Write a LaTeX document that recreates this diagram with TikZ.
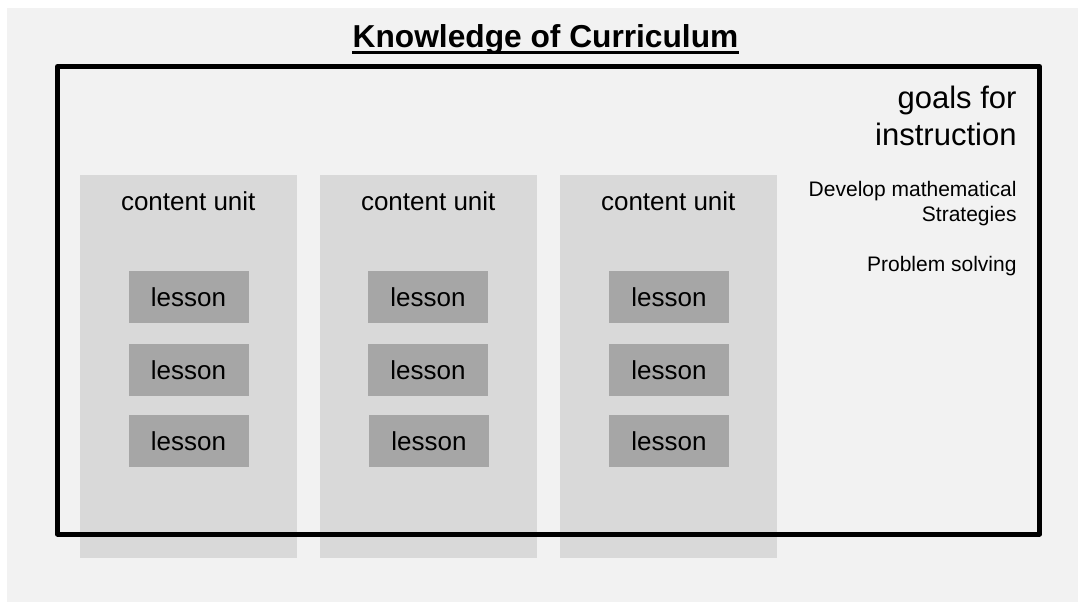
\documentclass[tikz,border=0pt]{standalone}
\usepackage{fontspec}
\setmainfont{Liberation Sans}
\definecolor{bgcol}{HTML}{F2F2F2}
\definecolor{unitcol}{HTML}{D9D9D9}
\definecolor{lescol}{HTML}{A6A6A6}
\begin{document}
\begin{tikzpicture}[x=1pt,y=-1pt,
  unitbox/.style={fill=unitcol, draw=none, minimum width=216.5pt, minimum height=383pt, inner sep=0pt, outer sep=0pt, anchor=north west},
  lessonbox/.style={fill=lescol, draw=none, minimum width=120pt, minimum height=51.7pt, inner sep=0pt, outer sep=0pt, anchor=north west, font=\fontsize{26}{31}\selectfont},
  unitlabel/.style={inner sep=0pt, anchor=base, font=\fontsize{26}{31}\selectfont},
  goallabel/.style={inner sep=0pt, anchor=base east, font=\fontsize{31}{37}\selectfont},
  smalllabel/.style={inner sep=0pt, anchor=base east, font=\fontsize{21}{25}\selectfont},
  titlelabel/.style={inner sep=0pt, anchor=base, font=\bfseries\fontsize{31.7}{38}\selectfont},
  framebox/.style={draw=black, line width=5pt, fill=none, minimum width=982pt, minimum height=467.5pt, inner sep=0pt, outer sep=0pt, anchor=north west, line join=round}
]
\useasboundingbox (0,0) rectangle (1078,602);
\fill[bgcol] (7,8) rectangle (1078,602);

% content unit columns
\node[unitbox] (u1) at (80,175) {};
\node[unitbox] (u2) at (320,175) {};
\node[unitbox] (u3) at (560,175) {};

\node[unitlabel] (cu1) at ([yshift=-35pt]u1.north) {content unit};
\node[unitlabel] (cu2) at ([yshift=-35pt]u2.north) {content unit};
\node[unitlabel] (cu3) at ([yshift=-35pt]u3.north) {content unit};

% lessons
\node[lessonbox] (l11) at (128.5,271) {lesson};
\node[lessonbox] (l12) at (128.5,344) {lesson};
\node[lessonbox] (l13) at (128.5,415) {lesson};
\node[lessonbox] (l21) at (368,271) {lesson};
\node[lessonbox] (l22) at (368,344) {lesson};
\node[lessonbox] (l23) at (369,415) {lesson};
\node[lessonbox] (l31) at (609,271) {lesson};
\node[lessonbox] (l32) at (609,344) {lesson};
\node[lessonbox] (l33) at (609,415) {lesson};

% frame
\node[framebox] (frame) at (57.5,66.5) {};

% goals text
\node[goallabel] (g1) at (1016.7,108.3) {goals for};
\node[goallabel] (g2) at (1016.7,145) {instruction};
\node[smalllabel] (s1) at (1016.7,196.7) {Develop mathematical};
\node[smalllabel] (s2) at (1016.7,221.7) {Strategies};
\node[smalllabel] (s3) at (1016.7,271.7) {Problem solving};

% title
\node[titlelabel] (title) at (545.5,47.3) {Knowledge of Curriculum};
\draw[line width=3pt] ([yshift=-5pt]title.base west) -- ([yshift=-5pt]title.base east);
\end{tikzpicture}
\end{document}
